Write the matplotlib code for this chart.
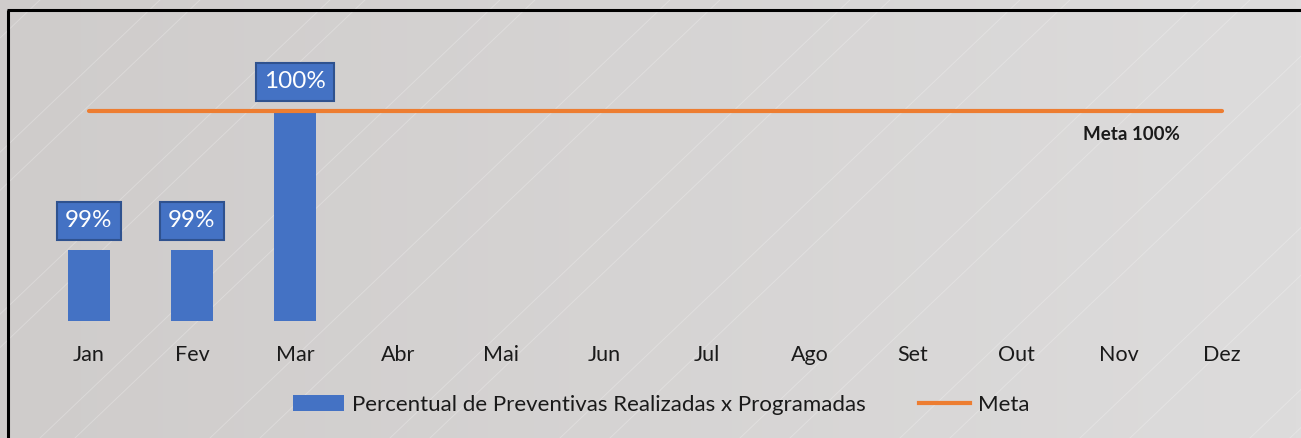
import numpy as np
import matplotlib.pyplot as plt
from matplotlib.lines import Line2D
from matplotlib.patches import Patch

plt.rcParams['font.family'] = ['Lato', 'DejaVu Sans']

months = ['Jan', 'Fev', 'Mar', 'Abr', 'Mai', 'Jun', 'Jul', 'Ago', 'Set', 'Out', 'Nov', 'Dez']
realizado = [99, 99, 100]          # % preventivas realizadas x programadas
rotulos = ['99%', '99%', '100%']
meta = [100] * 12

BLUE = '#4472C4'
BOX_EDGE = '#2F528F'
ORANGE = '#ED7D31'

W, H = 1301, 438
fig = plt.figure(figsize=(W / 100, H / 100), dpi=100)

# background: soft horizontal gray gradient with faint diagonal streaks
bg = fig.add_axes([0, 0, 1, 1], zorder=-10)
grad = np.linspace(0, 1, 256)[None, :]
c0 = np.array([0xCF, 0xCC, 0xCB]) / 255
c1 = np.array([0xDD, 0xDC, 0xDC]) / 255
img = c0[None, None, :] * (1 - grad[..., None]) + c1[None, None, :] * grad[..., None]
bg.imshow(img, extent=[0, W, 0, H], aspect='auto', origin='lower')
offsets = [-420, -300, -260, -130, -95, 40, 75, 210, 260, 390, 430, 560, 610,
           740, 790, 900, 950, 1080, 1130, 1250, 1290]
for o in offsets:
    bg.plot([o, o + H * 1.05], [0, H], color='white', lw=0.7, alpha=0.25)
bg.set_xlim(0, W)
bg.set_ylim(0, H)
bg.axis('off')

# outer frame (left and top edges)
bg.plot([8, 8], [0, H - 10], color='black', lw=2.2, solid_capstyle='butt')
bg.plot([7, W], [H - 10, H - 10], color='black', lw=2.2, solid_capstyle='butt')

# plot area
x0, x1 = 37.5, 1273.5
ybot, ytop = 321, 30
ax = fig.add_axes([x0 / W, (H - ybot) / H, (x1 - x0) / W, (ybot - ytop) / H])
ax.patch.set_alpha(0)
x = np.arange(len(months))
ax.set_xlim(-0.5, len(months) - 0.5)
ax.set_ylim(98.49, 100.58)

ax.bar(x[:len(realizado)], realizado, width=0.41, color=BLUE, zorder=2)
ax.plot(x, meta, color=ORANGE, lw=3, solid_capstyle='round', zorder=3)

for xi, v, lab in zip(x, realizado, rotulos):
    ax.annotate(lab, (xi, v), xytext=(0, 21), textcoords='offset points',
                ha='center', va='center', color='white', fontsize=17.5,
                bbox=dict(boxstyle='square,pad=0.35', fc=BLUE, ec=BOX_EDGE, lw=1.5),
                zorder=5)

ax.text(10.12, 99.83, 'Meta 100%', ha='center', va='center', fontsize=13.5,
        fontweight='bold', color='#1a1a1a')

ax.set_xticks(x)
ax.set_xticklabels(months, fontsize=15.5, color='#1a1a1a')
ax.tick_params(axis='x', length=0, pad=17)
ax.set_yticks([])
for s in ax.spines.values():
    s.set_visible(False)

handles = [Patch(facecolor=BLUE, edgecolor='none'),
           Line2D([0], [0], color=ORANGE, lw=3)]
leg = fig.legend(handles,
                 ['Percentual de Preventivas Realizadas x Programadas', 'Meta'],
                 loc='center', bbox_to_anchor=(0.508, (H - 405) / H), ncol=2,
                 frameon=False, fontsize=16, handlelength=2.3, handletextpad=0.35,
                 columnspacing=2.4)
for t in leg.get_texts():
    t.set_color('#1a1a1a')

fig.savefig('out.png', dpi=100)
